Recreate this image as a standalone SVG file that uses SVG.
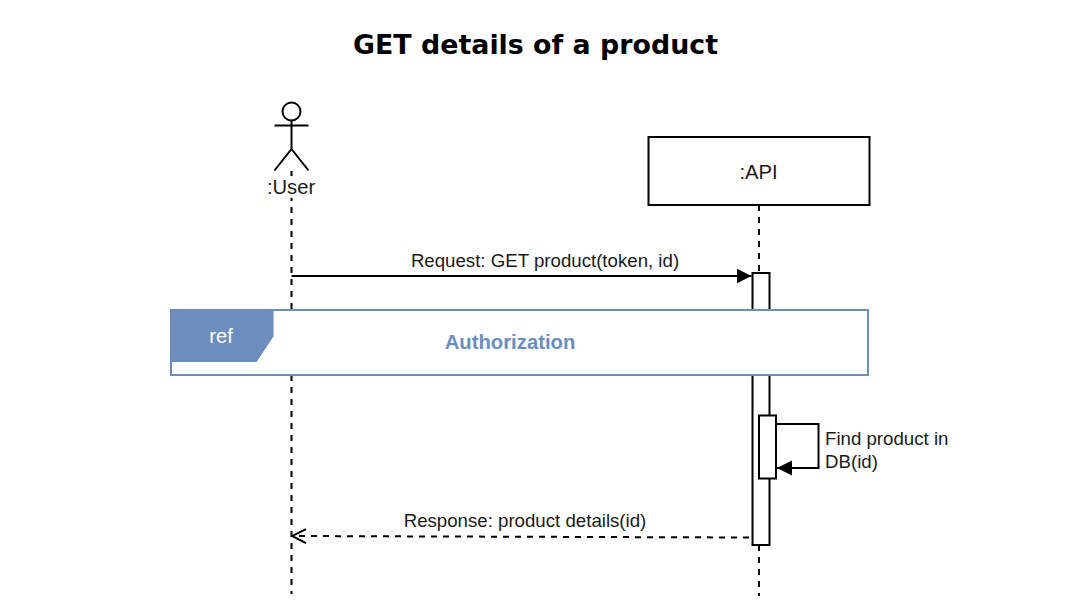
<svg xmlns="http://www.w3.org/2000/svg" width="1071" height="612" viewBox="0 0 1071 612">
<style>
text{font-family:"Liberation Sans",Arial,sans-serif;font-size:18.67px;fill:#1a1a1a}
.big{font-size:20.200px}
.s{fill:none;stroke:#000;stroke-width:2}
.box{fill:#fff;stroke:#000;stroke-width:2}
.d{fill:none;stroke:#000;stroke-width:2;stroke-dasharray:6 6}
</style>
<defs>
<marker id="tri" markerUnits="userSpaceOnUse" markerWidth="16" markerHeight="16" refX="15" refY="7.500" orient="auto"><path d="M0 0L15 7.500L0 15Z" fill="#000"/></marker>
<marker id="open" markerUnits="userSpaceOnUse" markerWidth="18" markerHeight="18" refX="16" refY="8" orient="auto"><path d="M2 1L16 8L2 15" fill="none" stroke="#000" stroke-width="2"/></marker>
</defs>
<rect width="1071" height="612" fill="#fff"/>
<text id="title" x="535.500" y="54" text-anchor="middle" style="font-family:'DejaVu Sans',sans-serif;font-size:26.850px;font-weight:700;fill:#000">GET details of a product</text>
<g id="connectors">
<path class="d" d="M291.500 171V594"/>
<path class="d" d="M759 205V272"/>
<path class="d" d="M759 545V596"/>
</g>
<g id="user">
<circle class="s" cx="291.500" cy="111.500" r="9"/>
<path class="s" d="M291.500 120.500V149M274.500 125.500H308.500M274.500 170.500L291.500 149L308.500 170.500"/>
<rect x="262" y="176" width="60" height="22" fill="#fff"/>
<text class="big" x="291" y="194" text-anchor="middle">:User</text>
</g>
<g id="api">
<rect class="box" x="648.500" y="137" width="221" height="68"/>
<text class="big" x="758.500" y="178.500" text-anchor="middle">:API</text>
</g>
<g id="activation1"><rect class="box" x="752.500" y="273" width="17" height="272"/></g>
<g id="activation2"><rect class="box" x="759" y="415.500" width="17" height="63"/></g>
<g id="messages">
<path class="s" d="M291.500 276H751.500" marker-end="url(#tri)"/>
<text x="545" y="266.500" text-anchor="middle">Request: GET product(token, id)</text>
<path class="s" d="M776 424H818.500V468H777" marker-end="url(#tri)"/>
<text x="825" y="445">Find product in</text>
<text x="825" y="468">DB(id)</text>
<path class="d" d="M749 537.500L292 536" marker-end="url(#open)"/>
<text x="525" y="526.500" text-anchor="middle">Response: product details(id)</text>
</g>
<g id="ref">
<rect x="171" y="310" width="697" height="65" fill="#fff" stroke="#6c8ebf" stroke-width="2"/>
<path d="M171 310H273.500V336.500L256.500 362H171Z" fill="#6c8ebf"/>
<text class="big" x="221" y="342.500" text-anchor="middle" style="fill:#fff">ref</text>
<text x="510" y="348.500" text-anchor="middle" style="fill:#6c8ebf;font-size:20.300px;font-weight:700">Authorization</text>
</g>
</svg>
